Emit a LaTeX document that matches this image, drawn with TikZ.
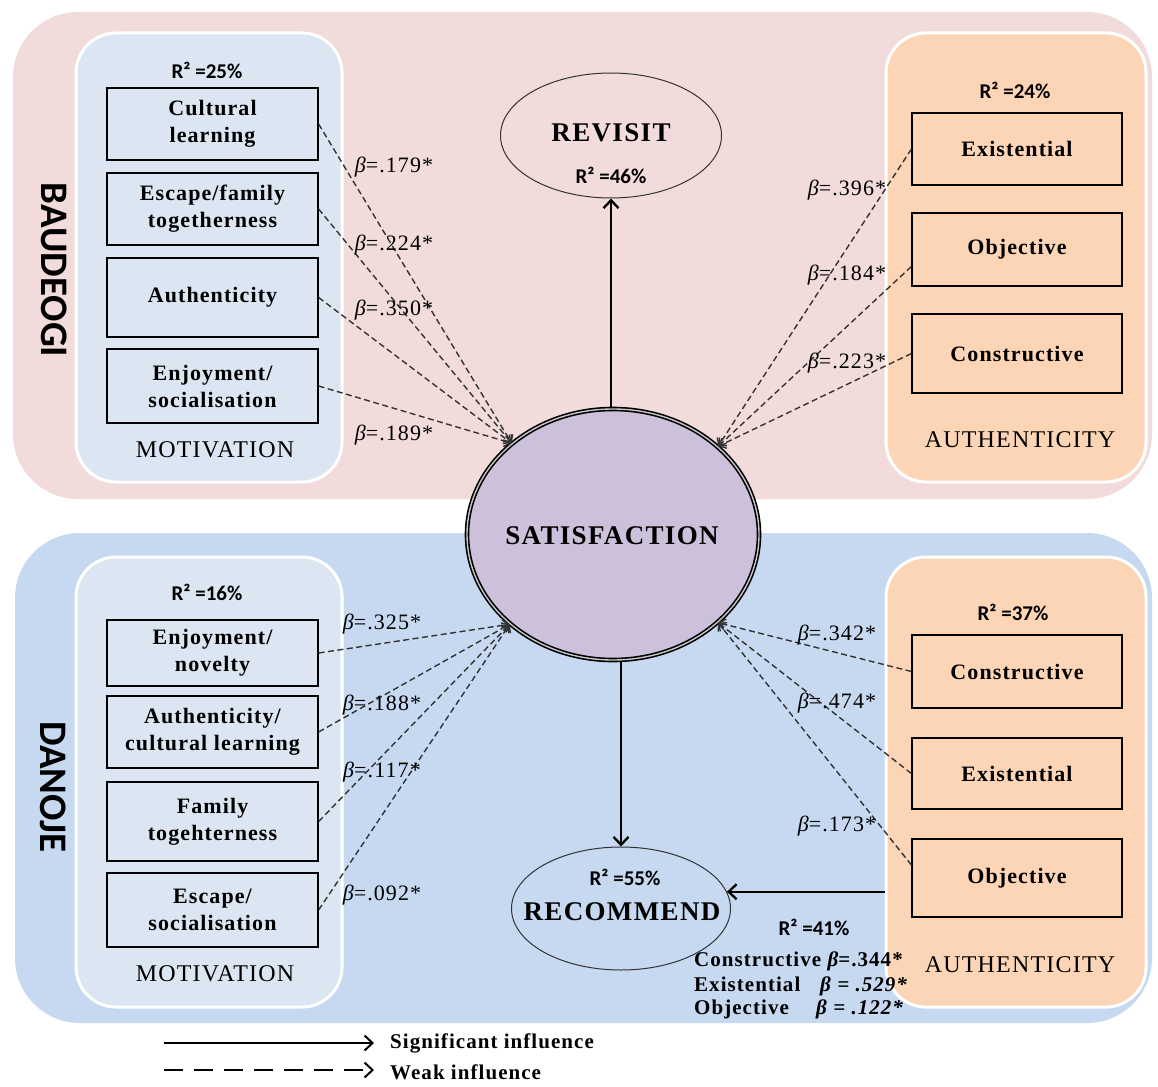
\documentclass[tikz,border=0pt]{standalone}
\usepackage{fontspec}
\setmainfont{Liberation Serif}
\newfontfamily\calfont{Carlito}
\newfontfamily\spacedserif[LetterSpace=5]{Liberation Serif}
\usetikzlibrary{arrows.meta,shapes.geometric}

\definecolor{pinkbg}{HTML}{F2DCDB}
\definecolor{bluebg}{HTML}{C6D9F1}
\definecolor{motfill}{HTML}{DCE6F2}
\definecolor{authfill}{HTML}{FBD5B5}
\definecolor{satfill}{HTML}{CCC0DA}

\newcommand\boxfont{\spacedserif\bfseries\fontsize{22}{27}\selectfont}
\newcommand\betafont{\spacedserif\fontsize{22}{26}\selectfont}
\newcommand\capfont{\spacedserif\fontsize{24}{28}\selectfont}
\newcommand\titlefont{\spacedserif\bfseries\fontsize{27}{30}\selectfont}
\newcommand\rsqfont{\calfont\bfseries\fontsize{21}{24}\selectfont}
\newcommand\sidefont{\calfont\bfseries\fontsize{39}{42}\selectfont}
\newcommand\legfont{\spacedserif\bfseries\fontsize{21}{24}\selectfont}
\newcommand\bet{{\itshape β}}

\tikzset{
  groupbox/.style={rectangle, rounded corners=40pt, draw=white, line width=3pt},
  itembox/.style={rectangle, draw=black, line width=1.2pt, minimum width=211pt,
    align=center, font=\boxfont, inner sep=2pt},
  betatext/.style={font=\betafont, inner sep=0pt},
  rsqtext/.style={font=\rsqfont, inner sep=0pt},
  captext/.style={font=\capfont, inner sep=0pt},
  titletext/.style={font=\titlefont, inner sep=0pt},
  outcome/.style={ellipse, draw=black!80, line width=1pt, inner sep=0pt},
  weakarrow/.style={draw=black!80, line width=1.4pt, dash pattern=on 6pt off 3.5pt,
    -{Straight Barb[length=6pt,width=11pt]}},
  sigarrow/.style={draw=black, line width=2.3pt, -{Straight Barb[length=8pt,width=15pt]}},
  listtext/.style={font=\legfont, inner sep=0pt, anchor=west},
  sitetext/.style={font=\sidefont, inner sep=0pt, rotate=-90}
}

\begin{document}
\begin{tikzpicture}[x=1pt,y=-1pt]
\useasboundingbox (0,0) rectangle (1158,1086);

% two study sites
\fill[pinkbg, rounded corners=65pt] (13,12) rectangle (1152,499);
\fill[bluebg, rounded corners=65pt] (15,533) rectangle (1152,1023);
\node[sitetext] (baudeogi) at (54,270) {BAUDEOGI};
\node[sitetext] (danoje) at (53,787) {DANOJE};

% construct groups
\node[groupbox, fill=motfill, minimum width=266pt, minimum height=449pt] (motA) at (209,257.5) {};
\node[groupbox, fill=authfill, minimum width=260pt, minimum height=449pt] (authA) at (1016,257.5) {};
\node[groupbox, fill=motfill, minimum width=266pt, minimum height=450pt] (motB) at (209,782) {};
\node[groupbox, fill=authfill, minimum width=260pt, minimum height=450pt] (authB) at (1016,782) {};

% Baudeogi: motivation items
\node[rsqtext] (rA1) at (207,70) {R² =25\%};
\node[itembox, minimum height=72pt] (cult) at (212.5,124) {Cultural\\learning};
\node[itembox, minimum height=72pt] (escf) at (212.5,209) {Escape/family\\togetherness};
\node[itembox, minimum height=79pt] (auth) at (212.5,297.5) {Authenticity};
\node[itembox, minimum height=74pt] (enjs) at (212.5,386) {Enjoyment/\\socialisation};
\node[captext] (motcapA) at (215,450) {MOTIVATION};

% Baudeogi: authenticity items
\node[rsqtext] (rA2) at (1015,90) {R² =24\%};
\node[itembox, minimum height=72pt, minimum width=210pt] (exiA) at (1017,149) {Existential};
\node[itembox, minimum height=73pt, minimum width=210pt] (objA) at (1017,249.5) {Objective};
\node[itembox, minimum height=79pt, minimum width=210pt] (conA) at (1017,353.5) {Constructive};
\node[captext] (autcapA) at (1020,440) {AUTHENTICITY};

% Danoje: motivation items
\node[rsqtext] (rB1) at (207,592) {R² =16\%};
\node[itembox, minimum height=66pt] (enjn) at (212.5,653) {Enjoyment/\\novelty};
\node[itembox, minimum height=72pt] (authc) at (212.5,732) {Authenticity/\\cultural learning};
\node[itembox, minimum height=79pt] (fam) at (212.5,821.5) {Family\\togehterness};
\node[itembox, minimum height=74pt] (escs) at (212.5,910) {Escape/\\socialisation};
\node[captext] (motcapB) at (215,974) {MOTIVATION};

% Danoje: authenticity items
\node[rsqtext] (rB2) at (1013,612) {R² =37\%};
\node[itembox, minimum height=73pt, minimum width=210pt] (conB) at (1017,671.5) {Constructive};
\node[itembox, minimum height=71pt, minimum width=210pt] (exiB) at (1017,773.5) {Existential};
\node[itembox, minimum height=78pt, minimum width=210pt] (objB) at (1017,878) {Objective};
\node[captext] (autcapB) at (1020,965) {AUTHENTICITY};

% outcomes
\node[ellipse, draw=black, line width=1.6pt, double=gray!45, double distance=1.4pt,
  fill=satfill, minimum width=292pt, minimum height=251pt, inner sep=0pt] (sat) at (613,534.5) {};
\node[titletext] (sattxt) at (612,536) {SATISFACTION};

\node[outcome, minimum width=221pt, minimum height=125pt] (rev) at (611,135.5) {};
\node[titletext] (revtxt) at (611,133) {REVISIT};
\node[rsqtext] (revr2) at (611,175) {R² =46\%};

\node[outcome, minimum width=219pt, minimum height=123pt] (rec) at (621,908.5) {};
\node[rsqtext] (recr2) at (625,877) {R² =55\%};
\node[titletext] (rectxt) at (622,912) {RECOMMEND};

% weak paths into satisfaction
\draw[weakarrow] (cult.east) -- (sat.138);
\draw[weakarrow] (escf.east) -- (sat.138);
\draw[weakarrow] (auth.east) -- (sat.138);
\draw[weakarrow] (enjs.east) -- (sat.138);
\draw[weakarrow] (exiA.west) -- (sat.40);
\draw[weakarrow] ([yshift=-17pt]objA.west) -- (sat.40);
\draw[weakarrow] (conA.west) -- (sat.40);
\draw[weakarrow] (enjn.east) -- (sat.221);
\draw[weakarrow] (authc.east) -- (sat.221);
\draw[weakarrow] (fam.east) -- (sat.221);
\draw[weakarrow] (escs.east) -- (sat.221);
\draw[weakarrow] (conB.west) -- (sat.320);
\draw[weakarrow] (exiB.west) -- (sat.320);
\draw[weakarrow] ([yshift=13pt]objB.west) -- (sat.320);

% significant paths
\draw[sigarrow] (sat.north -| rev.south) -- (rev.south);
\draw[sigarrow] (sat.south -| rec.north) -- (rec.north);
\draw[sigarrow] (authB.west |- rec.9) -- (rec.9);

% path coefficients
\node[betatext] (bA1) at (394,167) {\bet=.179*};
\node[betatext] (bA2) at (394,245) {\bet=.224*};
\node[betatext] (bA3) at (394,310) {\bet=.350*};
\node[betatext] (bA4) at (394,435) {\bet=.189*};
\node[betatext] (bA5) at (847,190) {\bet=.396*};
\node[betatext] (bA6) at (847,275) {\bet=.184*};
\node[betatext] (bA7) at (847,363) {\bet=.223*};
\node[betatext] (bB1) at (382,624) {\bet=.325*};
\node[betatext] (bB2) at (382,705) {\bet=.188*};
\node[betatext] (bB3) at (382,772) {\bet=.117*};
\node[betatext] (bB4) at (382,895) {\bet=.092*};
\node[betatext] (bB5) at (837,635) {\bet=.342*};
\node[betatext] (bB6) at (837,703) {\bet=.474*};
\node[betatext] (bB7) at (837,826) {\bet=.173*};

% authenticity to recommendation
\node[rsqtext] (recr41) at (814,927) {R² =41\%};
\node[listtext] (lcon) at (694,961) {Constructive \bet=.344*};
\node[listtext] (lexi) at (694,986) {\makebox[126pt][l]{Existential}{\itshape β = .529*}};
\node[listtext] (lobj) at (694,1009) {\makebox[122pt][l]{Objective}{\itshape β = .122*}};

% legend
\coordinate (s1) at (164,1043);
\coordinate (s2) at (374,1043);
\draw[sigarrow, line width=2pt] (s1) -- (s2);
\node[listtext] (lsig) at (390,1043) {Significant influence};
\coordinate (w1) at (164,1070);
\coordinate (w2) at (374,1070);
\draw[sigarrow, line width=2pt, dash pattern=on 19pt off 11pt] (w1) -- (w2);
\node[listtext] (lweak) at (390,1072) {Weak influence};
\end{tikzpicture}
\end{document}
